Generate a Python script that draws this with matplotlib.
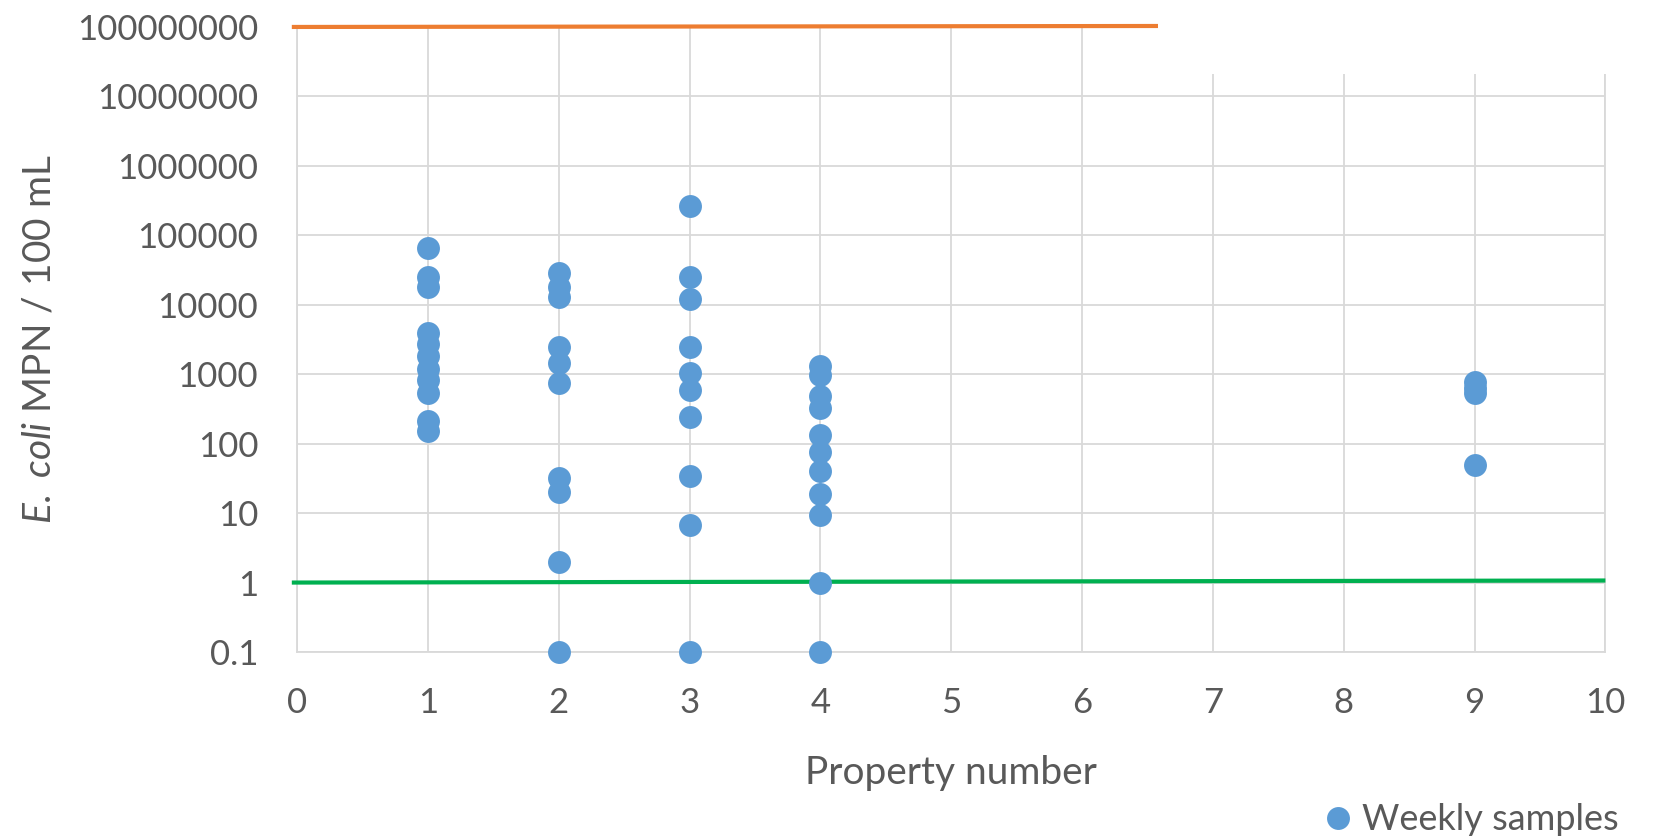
import matplotlib
matplotlib.use("Agg")
import matplotlib.pyplot as plt
from matplotlib.patches import Rectangle
from matplotlib.lines import Line2D

# Weekly E. coli counts (MPN / 100 mL) by property
property_ids = [1, 2, 3, 4, 9]
samples = {
    1: [65000, 25000, 18000, 3900, 2700, 1800, 1200, 830, 530, 210, 150],
    2: [29000, 18000, 13000, 2500, 1450, 740, 32, 20, 2, 0.1],
    3: [260000, 25000, 12000, 2500, 1040, 600, 245, 34, 6.7, 0.1],
    4: [1300, 980, 480, 325, 134, 77, 40, 19, 9.4, 1, 0.1],
    9: [780, 640, 530, 49],
}

# Reference limit lines
limit_x = [-0.04, 10]
upper_limit = [1e8, 1.05e8]
lower_limit = [1, 1.07]

x_ticks = list(range(0, 11))
y_ticks = [0.1, 1, 10, 100, 1000, 10000, 100000, 1000000, 10000000, 100000000]
y_tick_labels = ["0.1", "1", "10", "100", "1000", "10000", "100000",
                 "1000000", "10000000", "100000000"]

plt.rcParams["font.family"] = ["Lato", "DejaVu Sans"]
plt.rcParams["mathtext.fontset"] = "custom"
plt.rcParams["mathtext.rm"] = "Lato"
plt.rcParams["mathtext.it"] = "Lato:italic"

TEXT = "#595959"
GRID = "#D9D9D9"
BLUE = "#5B9BD5"

fig = plt.figure(figsize=(16.53, 8.40), dpi=100)
ax = fig.add_axes([0.1797, 0.2238, 0.7915, 0.7441])

ax.set_yscale("log")
ax.set_xlim(0, 10)
ax.set_ylim(0.1, 1e8)

ax.set_xticks(x_ticks)
ax.set_xticklabels([str(v) for v in x_ticks])
ax.set_yticks(y_ticks)
ax.set_yticklabels(y_tick_labels)
ax.minorticks_off()
ax.tick_params(axis="both", length=0, labelsize=25, colors=TEXT)
ax.tick_params(axis="x", pad=25)
ax.tick_params(axis="y", pad=28)

ax.grid(True, color=GRID, linewidth=1.3)
ax.set_axisbelow(True)
for s in ax.spines.values():
    s.set_color(GRID)
    s.set_linewidth(1.3)

ax.plot(limit_x, upper_limit, color="#ED7D31", linewidth=3.0,
        solid_capstyle="butt", clip_on=False, zorder=3)
ax.plot(limit_x, lower_limit, color="#00B050", linewidth=3.0,
        solid_capstyle="butt", clip_on=False, zorder=3)

for pid in property_ids:
    vals = samples[pid]
    ax.plot([pid] * len(vals), vals, linestyle="none", marker="o",
            markersize=16.5, markerfacecolor=BLUE, markeredgewidth=0,
            clip_on=False, zorder=4)

ax.set_xlabel("Property number", fontsize=28, color=TEXT, va="center")
ax.xaxis.set_label_coords(0.5, -0.1936)
ax.set_ylabel(r"$\mathit{E.\ coli}$ MPN / 100 mL", fontsize=28,
              color=TEXT, va="center")
ax.yaxis.set_label_coords(-0.1965, 0.5)

# blank area in the upper right corner
fig.patches.append(Rectangle((0.7005, 0.912), 0.3, 0.1,
                             transform=fig.transFigure, facecolor="white",
                             edgecolor="none", zorder=10))

handle = Line2D([], [], linestyle="none", marker="o", markersize=16.5,
                markerfacecolor=BLUE, markeredgewidth=0)
ax.legend([handle], ["Weekly samples"], loc="center right",
          bbox_to_anchor=(0.979, 1 - 820 / 840),
          bbox_transform=fig.transFigure, frameon=False, fontsize=26,
          labelcolor=TEXT, handlelength=0.6, handletextpad=0.35,
          borderpad=0, borderaxespad=0)

fig.savefig("out.png", dpi=100, facecolor="white")
